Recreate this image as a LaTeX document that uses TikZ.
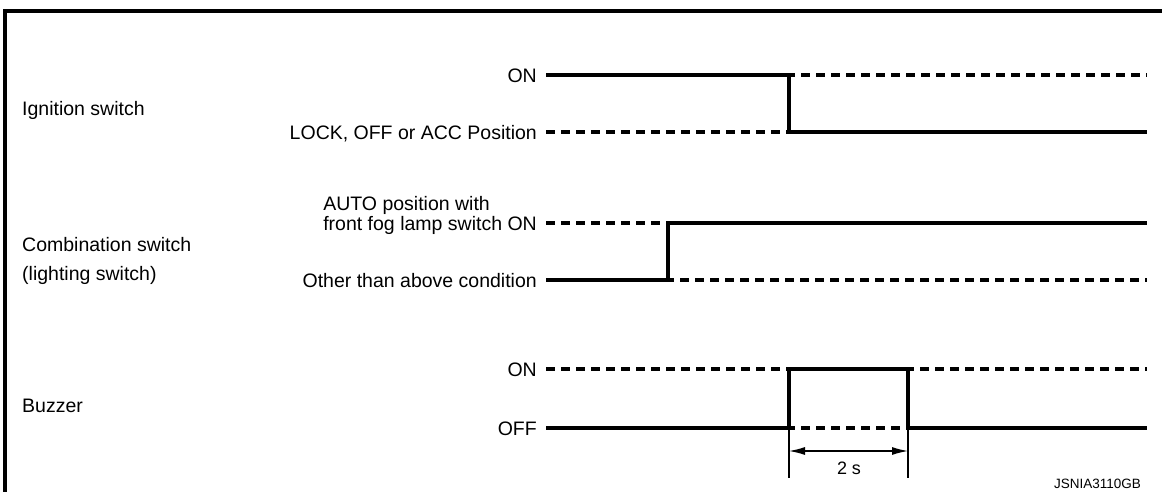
\documentclass[tikz,border=0pt]{standalone}
\usepackage{fontspec}
\setmainfont{Liberation Sans}
\usetikzlibrary{arrows.meta}

\def\xa{546}
\def\xb{1147}
\def\lw{3.1}
\def\capmid{7}

\begin{document}
\begin{tikzpicture}[x=1pt,y=-1pt,
	sig/.style={line width=\lw pt},
	sigdash/.style={sig,dash pattern=on 9pt off 6pt},
	dimline/.style={line width=1.3pt},
	statelab/.style={inner sep=0pt,anchor=base east,xshift=-9pt,yshift=-\capmid pt,font=\fontsize{19.5}{23}\selectfont},
	rowlab/.style={inner sep=0pt,anchor=base west,yshift=-\capmid pt,font=\fontsize{19.5}{23}\selectfont}]
	\useasboundingbox (0,0) rectangle (1162,491);
	\draw[line width=3.8pt] (5,495) -- (5,11) -- (1166,11);

	% ignition switch
	\node[rowlab] (ign) at (22,108) {Ignition switch};
	\coordinate (ign-hi) at (\xa,75);
	\coordinate (ign-lo) at (\xa,132);
	\coordinate (ign-t) at (789,75);
	\coordinate (ign-b) at (789,132);
	\coordinate (ign-hiE) at (\xb,75);
	\coordinate (ign-loE) at (\xb,132);
	\node[statelab] (ign-on) at (ign-hi) {ON};
	\node[statelab] (ign-off) at (ign-lo) {LOCK, OFF or ACC Position};
	\draw[sig] (ign-hi) -- (ign-t) -- (ign-b) -- (ign-loE);
	\draw[sigdash] (ign-lo) -- (ign-b);
	\draw[sigdash,dash phase=3pt] (ign-t) -- (ign-hiE);

	% combination switch
	\node[rowlab] (cmb) at (22,244) {Combination switch};
	\node[rowlab] (cmb2) at (22,273) {(lighting switch)};
	\coordinate (cmb-hi) at (\xa,223);
	\coordinate (cmb-lo) at (\xa,280);
	\coordinate (cmb-t) at (668,223);
	\coordinate (cmb-b) at (668,280);
	\coordinate (cmb-hiE) at (\xb,223);
	\coordinate (cmb-loE) at (\xb,280);
	\node[statelab] (cmb-fog) at (cmb-hi) {front fog lamp switch ON};
	\node[inner sep=0pt,anchor=base west,font=\fontsize{19.5}{23}\selectfont] (cmb-auto) at ([yshift=20pt]cmb-fog.base west) {AUTO position with};
	\node[statelab] (cmb-oth) at (cmb-lo) {Other than above condition};
	\draw[sig] (cmb-lo) -- (cmb-b) -- (cmb-t) -- (cmb-hiE);
	\draw[sigdash] (cmb-hi) -- (cmb-t);
	\draw[sigdash,dash phase=3pt] (cmb-b) -- (cmb-loE);

	% buzzer
	\node[rowlab] (bz) at (22,405) {Buzzer};
	\coordinate (bz-hi) at (\xa,369);
	\coordinate (bz-lo) at (\xa,428);
	\coordinate (bz-t1) at (789,369);
	\coordinate (bz-b1) at (789,428);
	\coordinate (bz-t2) at (908,369);
	\coordinate (bz-b2) at (908,428);
	\coordinate (bz-hiE) at (\xb,369);
	\coordinate (bz-loE) at (\xb,428);
	\node[statelab] (bz-on) at (bz-hi) {ON};
	\node[statelab] (bz-off) at (bz-lo) {OFF};
	\draw[sig] (bz-lo) -- (bz-b1) -- (bz-t1) -- (bz-t2) -- (bz-b2) -- (bz-loE);
	\draw[sigdash] (bz-hi) -- (bz-t1);
	\draw[sigdash,dash phase=3pt] (bz-t2) -- (bz-hiE);
	\draw[sigdash,dash phase=3pt] (bz-b1) -- (bz-b2);

	% 2 s
	\coordinate (dim1) at (789,478);
	\coordinate (dim2) at (908,478);
	\coordinate (arr1) at (789,451);
	\coordinate (arr2) at (908,451);
	\draw[dimline] (bz-b1) -- (dim1);
	\draw[dimline] (bz-b2) -- (dim2);
	\draw[dimline,{Latex[length=16pt,width=8pt]}-{Latex[length=16pt,width=8pt]}] (arr1) -- (arr2);
	\node[inner sep=0pt,font=\fontsize{18}{21}\selectfont] (dur) at (849,468) {2 s};

	\node[inner sep=0pt,anchor=base east,font=\fontsize{13.5}{15}\selectfont] (code) at (1141,488) {JSNIA3110GB};
\end{tikzpicture}
\end{document}
